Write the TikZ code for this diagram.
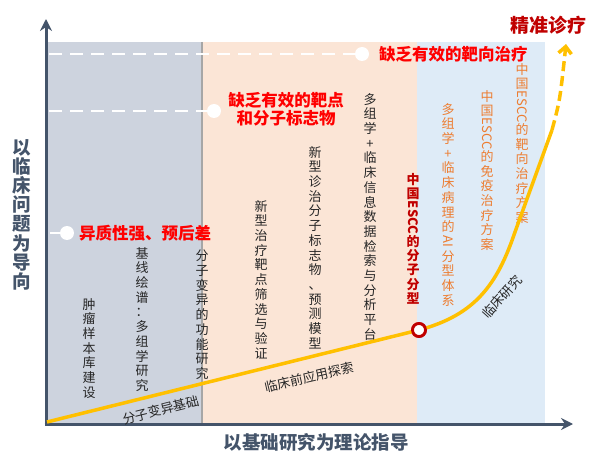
\documentclass[tikz,border=0pt]{standalone}
\usepackage{fontspec}
\setmainfont{Noto Sans CJK SC}
\usepackage{graphicx}
\usetikzlibrary{arrows.meta}
\definecolor{axisc}{HTML}{44546A}
\definecolor{grayreg}{HTML}{CDD3DE}
\definecolor{peachreg}{HTML}{FBE5D6}
\definecolor{bluereg}{HTML}{DEEBF7}
\definecolor{curvec}{HTML}{FFC000}
\definecolor{darkred}{HTML}{C00000}
\definecolor{orangec}{HTML}{ED7D31}
\definecolor{txtc}{HTML}{262626}
\newcommand{\vR}[1]{\rotatebox[origin=c]{-90}{#1}}
\tikzset{
  vt/.style={anchor=north, inner sep=0pt, align=center, text=txtc, font={\fontsize{13}{14.7}\selectfont}},
  vtred/.style={vt, text=darkred, font={\fontsize{13}{14.3}\selectfont\bfseries}},
  vtor/.style={vt, text=orangec},
  redlbl/.style={text=red, font={\fontsize{16.5}{18}\selectfont\bfseries}, inner sep=0pt, align=center},
  axislbl/.style={text=axisc, font={\fontsize{18.5}{19.2}\selectfont\bfseries}, inner sep=0pt, align=center},
  curvelbl/.style={text=txtc, font={\fontsize{13}{14}\selectfont}, inner sep=0pt},
  whitedash/.style={white, line width=2.5pt, dash pattern=on 13pt off 8pt},
  whitedot/.style={circle, fill=white, minimum size=14pt, inner sep=0pt},
  axisline/.style={axisc, line width=3pt, -{Stealth[length=12pt, width=12pt, inset=4pt]}}
}
\begin{document}
\begin{tikzpicture}[x=1pt, y=-1pt]
\useasboundingbox (0,0) rectangle (600,465);
% regions
\fill[grayreg] (47,42) rectangle (202,423);
\fill[peachreg] (202,42) rectangle (417,423);
\fill[bluereg] (417,42) rectangle (545,423);
\draw[gray!70, line width=1.2pt] (202,42) -- (202,423);
% dashed white guides
\coordinate (d1s) at (49,54);
\coordinate (d2s) at (49,111);
\coordinate (d3s) at (50,233);
\node[whitedot] (c1) at (362,54) {};
\node[whitedot] (c2) at (214,111) {};
\node[whitedot] (c3) at (67,233) {};
\draw[whitedash] (d1s) -- (c1.center);
\draw[whitedash] (d2s) -- (c2.center);
\draw[white, line width=2.5pt] (d3s) -- (c3.center);
% red labels
\node[redlbl, anchor=west] (l1) at (379,54) {缺乏有效的靶向治疗};
\node[redlbl] (l2) at (286,109) {缺乏有效的靶点\\和分子标志物};
\node[redlbl, anchor=west] (l3) at (79,233) {异质性强、预后差};
\node[text=darkred, font={\fontsize{19}{20}\selectfont\bfseries}, inner sep=0pt] (goal) at (548,25) {精准诊疗};
% axes
\coordinate (o) at (46,424);
\coordinate (ytip) at (46,19);
\coordinate (xtip) at (573,424);
\draw[axisline] (46,425.5) -- (ytip);
\draw[axisline] (44.5,424) -- (xtip);
\node[axislbl, anchor=north] (ylbl) at (22,139) {以\\临\\床\\问\\题\\为\\导\\向};
\node[axislbl] (xlbl) at (316,442) {以基础研究为理论指导};
% vertical texts
\node[vt] (t1) at (89,298) {肿\\瘤\\样\\本\\库\\建\\设};
\node[vt] (t2) at (142,247) {基\\线\\绘\\谱\\：\\多\\组\\学\\研\\究};
\node[vt] (t3) at (202,250) {分\\子\\变\\异\\的\\功\\能\\研\\究};
\node[vt] (t4) at (261,200) {新\\型\\治\\疗\\靶\\点\\筛\\选\\与\\验\\证};
\node[vt] (t5) at (315,146) {新\\型\\诊\\治\\分\\子\\标\\志\\物\\、\\预\\测\\模\\型};
\node[vt] (t6) at (370,93) {多\\组\\学\\+\\临\\床\\信\\息\\数\\据\\检\\索\\与\\分\\析\\平\\台};
\node[vtred] (t7) at (413,173) {中\\国\\\vR{ESCC}\\的\\分\\子\\分\\型};
\node[vtor] (t8) at (448,103) {多\\组\\学\\+\\临\\床\\病\\理\\的\\\vR{AI}\\分\\型\\体\\系};
\node[vtor] (t9) at (487,90) {中\\国\\\vR{ESCC}\\的\\免\\疫\\治\\疗\\方\\案};
\node[vtor] (t10) at (522,63) {中\\国\\\vR{ESCC}\\的\\靶\\向\\治\\疗\\方\\案};
% curve
\coordinate (cs) at (47,422);
\coordinate (cm) at (515,232);
\coordinate (ce) at (552,130);
\node[circle, draw=darkred, line width=2.8pt, fill=white, minimum size=13pt, inner sep=0pt] (mark) at (419,330) {};
\draw[curvec, line width=3.5pt] (cs) -- (mark.center) .. controls (475,315) and (497,285) .. (cm) -- (ce);
\draw[curvec, line width=3.5pt, dash pattern=on 10pt off 5pt, -{Straight Barb[length=7pt, width=13pt]}] (ce) .. controls (560,100) .. (566,44);
\node[circle, draw=darkred, line width=2.8pt, fill=white, minimum size=13pt, inner sep=0pt] at (mark) {};
% curve labels
\node[curvelbl, rotate=14] (k1) at (161,410) {分子变异基础};
\node[curvelbl, rotate=13] (k2) at (309,377) {临床前应用探索};
\node[curvelbl, rotate=48] (k3) at (502,297) {临床研究};
\end{tikzpicture}
\end{document}
